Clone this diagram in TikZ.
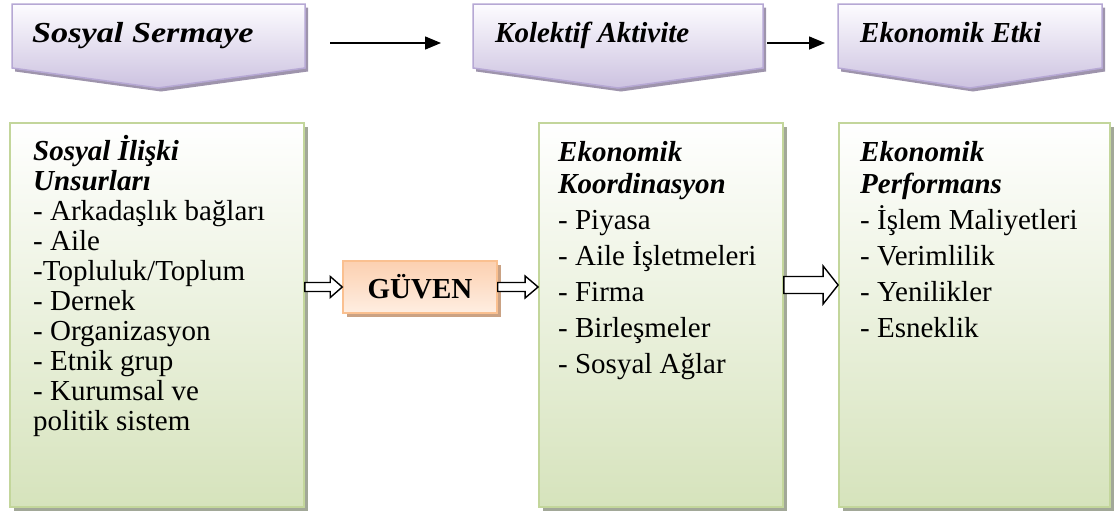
\documentclass[tikz,border=0pt]{standalone}
\usepackage{fontspec}
\usepackage{graphicx}
\setmainfont{Liberation Serif}
\usetikzlibrary{arrows.meta,calc,shadows}
\definecolor{hdrborder}{RGB}{182,168,212}
\definecolor{hdrtop}{RGB}{253,252,255}
\definecolor{hdrbot}{RGB}{204,194,224}
\definecolor{hdrshadow}{RGB}{158,148,172}
\definecolor{grnborder}{RGB}{195,214,155}
\definecolor{grnbot}{RGB}{214,227,188}
\definecolor{grnshadow}{RGB}{162,168,152}
\definecolor{orgborder}{RGB}{250,192,144}
\definecolor{orgtop}{RGB}{252,208,176}
\definecolor{orgbot}{RGB}{254,238,226}
\definecolor{orgshadow}{RGB}{202,162,132}
\newcommand\hdrshape[3]{(#1,4) -- (#2,4) -- (#2,68) -- (#3,88) -- (#1,68) -- cycle}
\newcommand\myline[1]{\hbox{#1}}
\newcommand\ttl[1]{\hbox{\bfseries\itshape #1}}
\newcommand\blockarrow[5]{%
  \draw[blockarr] ($(#1)+(0,-#3)$) -- ($(#2)+(-#5,-#3)$) -- ($(#2)+(-#5,-#4)$) -- (#2)
    -- ($(#2)+(-#5,#4)$) -- ($(#2)+(-#5,#3)$) -- ($(#1)+(0,#3)$) -- cycle;}
\tikzset{
  hdrtext/.style={inner sep=0pt,anchor=base west,font=\fontsize{29}{32}\selectfont\bfseries\itshape},
  greenbox/.style={rectangle,draw=grnborder,line width=1.8pt,top color=white,bottom color=grnbot,
    general shadow={fill=grnshadow,shadow xshift=3.5pt,shadow yshift=-3.5pt}},
  trustbox/.style={rectangle,draw=orgborder,line width=1.5pt,top color=orgtop,bottom color=orgbot,
    general shadow={fill=orgshadow,shadow xshift=4pt,shadow yshift=-4pt},
    font=\fontsize{29}{32}\selectfont\bfseries},
  itemtext/.style={inner sep=0pt,anchor=base west,font=\fontsize{29}{32}\selectfont},
  linearr/.style={line width=1.5pt,-{Triangle[length=16pt,width=13pt]}},
  blockarr/.style={draw=black,fill=white,line width=1.4pt,line join=miter},
}
\begin{document}
\begin{tikzpicture}[x=1pt,y=-1pt]
\useasboundingbox (0,0) rectangle (1119,517);
% headers
\fill[hdrshadow,shift={(3,3.5)}] \hdrshape{12}{305}{158};
\shadedraw[top color=hdrtop,bottom color=hdrbot,draw=hdrborder,line width=1.5pt] \hdrshape{12}{305}{158};
\fill[hdrshadow,shift={(3,3.5)}] \hdrshape{473}{763}{618};
\shadedraw[top color=hdrtop,bottom color=hdrbot,draw=hdrborder,line width=1.5pt] \hdrshape{473}{763}{618};
\fill[hdrshadow,shift={(3,3.5)}] \hdrshape{838}{1102}{970};
\shadedraw[top color=hdrtop,bottom color=hdrbot,draw=hdrborder,line width=1.5pt] \hdrshape{838}{1102}{970};
\node[hdrtext] (h1) at (32,42) {\scalebox{1.18}[1]{Sosyal Sermaye}};
\node[hdrtext] (h2) at (495,42) {Kolektif Aktivite};
\node[hdrtext] (h3) at (860,42) {Ekonomik Etki};
\coordinate (a1s) at (330,43);
\coordinate (a1e) at (441,43);
\coordinate (a2s) at (767,43);
\coordinate (a2e) at (825,43);
\draw[linearr] (a1s) -- (a1e);
\draw[linearr] (a2s) -- (a2e);
% boxes
\node[greenbox,minimum width=294pt,minimum height=384pt] (b1) at (157,315) {};
\node[greenbox,minimum width=244pt,minimum height=384pt] (b2) at (661,315) {};
\node[greenbox,minimum width=271pt,minimum height=384pt] (b3) at (974.5,315) {};
\node[trustbox,minimum width=154pt,minimum height=52pt] (g) at (420,287) {GÜVEN};
% texts
\node[itemtext] (t1) at (33,160) {\vtop{\baselineskip=30pt\lineskiplimit=-\maxdimen
  \ttl{Sosyal İlişki}
  \ttl{Unsurları}
  \myline{- Arkadaşlık bağları}
  \myline{- Aile}
  \myline{-Topluluk/Toplum}
  \myline{- Dernek}
  \myline{- Organizasyon}
  \myline{- Etnik grup}
  \myline{- Kurumsal ve}
  \myline{politik sistem}}};
\node[itemtext] (t2) at (558,161) {\vtop{\baselineskip=36pt\lineskiplimit=-\maxdimen
  \ttl{Ekonomik}\vskip-4pt
  \ttl{Koordinasyon}
  \myline{- Piyasa}
  \myline{- Aile İşletmeleri}
  \myline{- Firma}
  \myline{- Birleşmeler}
  \myline{- Sosyal Ağlar}}};
\node[itemtext] (t3) at (860,161) {\vtop{\baselineskip=36pt\lineskiplimit=-\maxdimen
  \ttl{Ekonomik}\vskip-4pt
  \ttl{Performans}
  \myline{- İşlem Maliyetleri}
  \myline{- Verimlilik}
  \myline{- Yenilikler}
  \myline{- Esneklik}}};
% block arrows
\coordinate (pA) at (b1.east |- g.west);
\coordinate (pB) at (b2.west |- g.east);
\coordinate (pC) at (b2.east |- 0,285);
\coordinate (pD) at (b3.west |- 0,285);
\blockarrow{pA}{g.west}{4.5}{10.5}{12}
\blockarrow{g.east}{pB}{4.5}{11}{13}
\blockarrow{pC}{pD}{8.5}{19}{15}
\end{tikzpicture}
\end{document}
